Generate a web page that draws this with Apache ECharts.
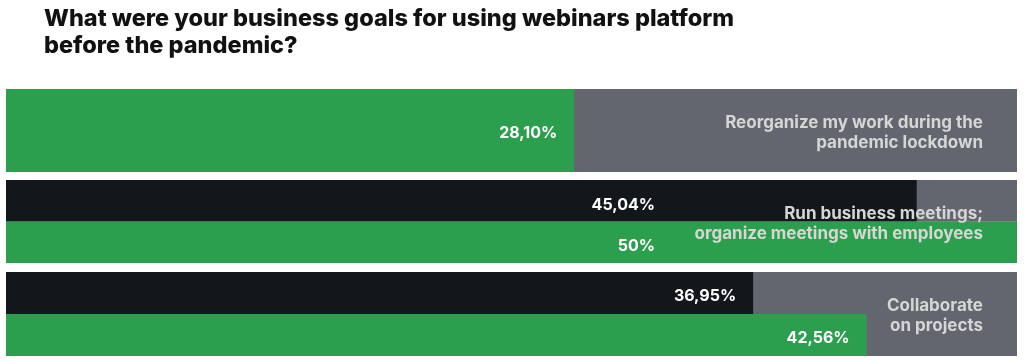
<!DOCTYPE html>
<html>
<head>
<meta charset="utf-8">
<script src="https://cdn.jsdelivr.net/npm/echarts@6/dist/echarts.min.js"></script>
<style>
html,body{margin:0;padding:0;background:#fff;}
#chart{width:1024px;height:361px;}
</style>
</head>
<body>
<div id="chart"></div>
<script>
// ---- data ----
const titleText = 'What were your business goals for using webinars platform\nbefore the pandemic?';
const categories = [
  'Reorganize my work during the\npandemic lockdown',
  'Run business meetings;\norganize meetings with employees',
  'Collaborate\non projects'
];
const blackValues = [null, 45.04, 36.95];
const greenValues = [28.10, 50, 42.56];
const axisMax = 50;

// ---- style ----
const FONT = 'Inter, "Open Sans", sans-serif';
const GREEN = '#2c9f4e';
const BLACK = '#13161a';
const GRAY = '#63666e';
const CAT_COLOR = '#d6d6d4';

const gridPos = [
  {top: 89, height: 83},
  {top: 180, height: 83},
  {top: 272, height: 84}
];
// per-group shift of value labels (group 2 labels sit left of the category text)
const labelFixedX = [null, 649, null];

function fmt(v) {
  return (v % 1 === 0 ? String(v) : v.toFixed(2).replace('.', ',')) + '%';
}

const grid = [], xAxis = [], yAxis = [], series = [], graphics = [];
categories.forEach((cat, i) => {
  grid.push({left: 6, right: 7, top: gridPos[i].top, height: gridPos[i].height, containLabel: false});
  xAxis.push({type: 'value', gridIndex: i, min: 0, max: axisMax, show: false});
  const rows = [];
  if (blackValues[i] != null) rows.push({value: blackValues[i], color: BLACK});
  rows.push({value: greenValues[i], color: GREEN});
  yAxis.push({type: 'category', gridIndex: i, inverse: true, show: false, data: rows.map((r, k) => 'r' + k)});
  series.push({
    type: 'bar',
    xAxisIndex: i,
    yAxisIndex: i,
    barWidth: '100%',
    barCategoryGap: '0%',
    showBackground: true,
    backgroundStyle: {color: GRAY},
    silent: true,
    data: rows.map(r => {
      const label = labelFixedX[i] != null
        ? {position: [labelFixedX[i], '50%'], align: 'right', verticalAlign: 'middle', offset: [0, 4]}
        : {position: 'insideRight', distance: 17, offset: [0, 3]};
      return {value: r.value, itemStyle: {color: r.color}, label: label};
    }),
    label: {
      show: true,
      color: '#ffffff',
      fontFamily: FONT,
      fontWeight: 700,
      fontSize: 16,
      formatter: p => fmt(p.value)
    }
  });
  graphics.push({
    type: 'text',
    right: 1024 - 983,
    top: gridPos[i].top + gridPos[i].height / 2 - 18,
    z: 100,
    style: {
      text: cat,
      fill: CAT_COLOR,
      font: '700 17px ' + FONT,
      textAlign: 'right',
      lineHeight: 20
    }
  });
});

graphics.push({
  type: 'text',
  left: 44,
  top: 5,
  style: {
    text: titleText,
    fill: '#111111',
    font: '800 23.5px ' + FONT,
    lineHeight: 27
  }
});

const chart = echarts.init(document.getElementById('chart'), null, {renderer: 'canvas'});
chart.setOption({
  animation: false,
  backgroundColor: '#ffffff',
  grid: grid,
  xAxis: xAxis,
  yAxis: yAxis,
  series: series,
  graphic: graphics
});
</script>
</body>
</html>
